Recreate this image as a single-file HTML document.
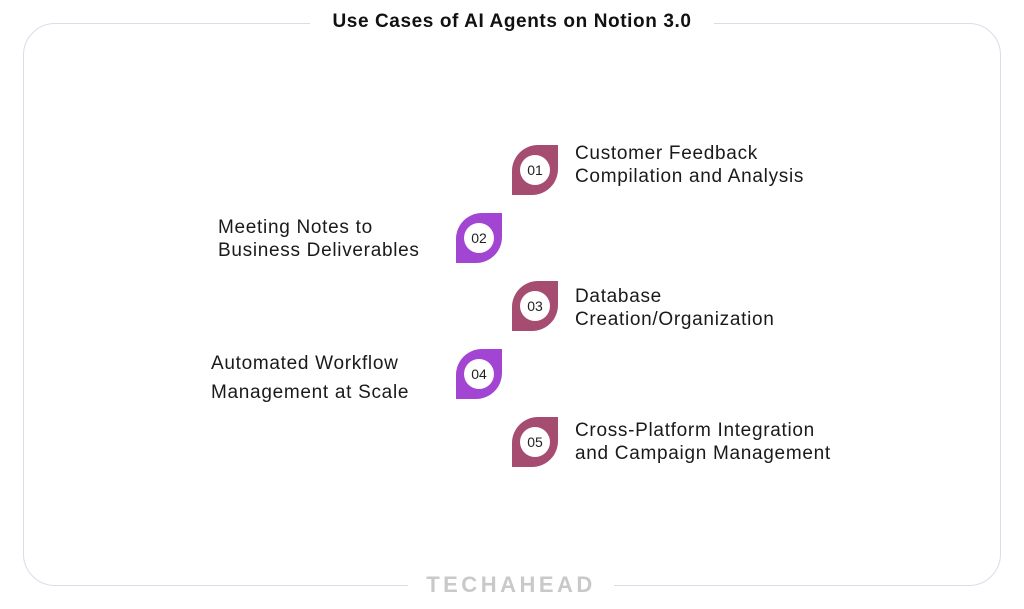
<!DOCTYPE html>
<html><head><style>
body{margin:0;width:1024px;height:609px;background:#fff;font-family:"Liberation Sans",sans-serif;position:relative;overflow:hidden}
.frame{position:absolute;left:23px;top:23px;width:976px;height:561px;border:1.5px solid #d9dde8;border-radius:32px}
.title{position:absolute;left:310px;top:8px;width:404px;text-align:center;background:#fff;font-weight:bold;font-size:19px;letter-spacing:0.6px;color:#111;line-height:28px}
.logo{position:absolute;left:408px;top:571px;width:206px;text-align:center;background:#fff;font-weight:bold;font-size:22px;color:#c9c9c9;letter-spacing:3.5px;line-height:28px}
.leaf{position:absolute;width:46px;height:50px;border-radius:26px 0 26px 0}
.leaf .c{position:absolute;left:8px;top:10px;width:30px;height:30px;border-radius:50%;background:#fff;text-align:center;line-height:30px;font-size:14px;color:#222}
.r{background:#a54c70}.p{background:#a145d2}
.t{position:absolute;font-size:19px;letter-spacing:0.7px;color:#1a1a1a;line-height:23px;white-space:nowrap}
</style></head><body>
<div class="frame"></div>
<div class="title">Use Cases of AI Agents on Notion 3.0</div>
<div class="logo">TECHAHEAD</div>

<div class="leaf r" style="left:512px;top:145px"><div class="c">01</div></div>
<div class="leaf p" style="left:456px;top:213px"><div class="c">02</div></div>
<div class="leaf r" style="left:512px;top:281px"><div class="c">03</div></div>
<div class="leaf p" style="left:456px;top:349px"><div class="c">04</div></div>
<div class="leaf r" style="left:512px;top:417px"><div class="c">05</div></div>

<div class="t" style="left:575px;top:142px">Customer Feedback<br>Compilation and Analysis</div>
<div class="t" style="left:218px;top:216px">Meeting Notes to<br>Business Deliverables</div>
<div class="t" style="left:575px;top:285px">Database<br>Creation/Organization</div>
<div class="t" style="left:211px;top:349px;line-height:29px">Automated Workflow<br>Management at Scale</div>
<div class="t" style="left:575px;top:419px">Cross-Platform Integration<br>and Campaign Management</div>
</body></html>
